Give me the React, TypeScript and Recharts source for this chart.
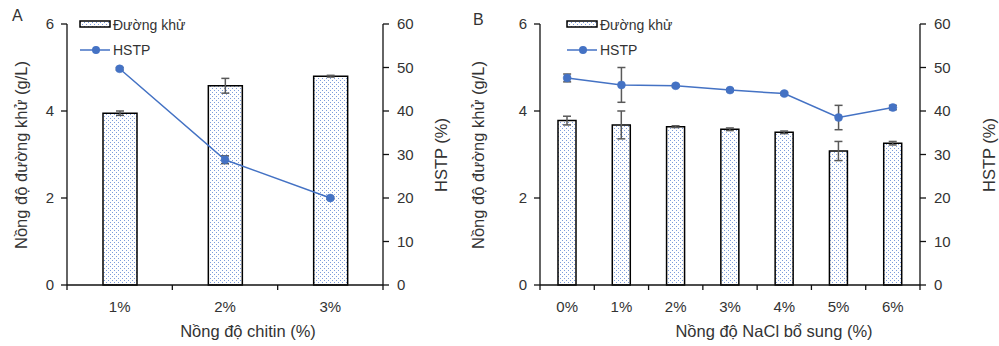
import React from 'react';
import {
  ComposedChart,
  Bar,
  Line,
  XAxis,
  YAxis,
  ErrorBar,
  Legend,
} from 'recharts';

// Panel A: chitin concentration
const chitinCats = ['1%', '2%', '3%'];
const chitinSugar = [3.95, 4.58, 4.8];
const chitinSugarErr = [0.05, 0.17, 0.02];
const chitinHstp = [49.7, 28.8, 20.0];
const chitinHstpErr = [0.3, 0.9, 0.3];

// Panel B: added NaCl concentration
const naclCats = ['0%', '1%', '2%', '3%', '4%', '5%', '6%'];
const naclSugar = [3.78, 3.68, 3.64, 3.58, 3.51, 3.08, 3.26];
const naclSugarErr = [0.1, 0.32, 0.02, 0.03, 0.03, 0.22, 0.04];
const naclHstp = [47.6, 46.0, 45.8, 44.8, 44.0, 38.5, 40.8];
const naclHstpErr = [0.9, 4.0, 0.3, 0.3, 0.3, 2.8, 0.5];

const sugarTicks = [0, 2, 4, 6];
const hstpTicks = [0, 10, 20, 30, 40, 50, 60];

const FONT = '"Liberation Sans", Arial, sans-serif';
const TEXT = '#333';
const BLUE = '#4472C4';
const DOT = '#7d9cdb';
const AXIS = '#111';
const LABEL_GAP = 16;

function buildRows(cats: string[], sugar: number[], sugarErr: number[], hstp: number[], hstpErr: number[]) {
  return cats.map((cat, i) => ({
    cat,
    sugar: sugar[i],
    sugarErr: sugarErr[i],
    hstp: hstp[i],
    hstpErr: hstpErr[i],
  }));
}

const LegendBox = () => (
  <svg width={130} height={46} style={{ overflow: 'visible' }}>
    <rect x={2} y={9} width={30} height={6} fill="url(#dots)" stroke="#000" strokeWidth={1.5} />
    <text x={35} y={13} dominantBaseline="central" fontSize={14} fill={TEXT} fontFamily={FONT}>
      Đường khử
    </text>
    <line x1={2} y1={38} x2={32} y2={38} stroke={BLUE} strokeWidth={1.5} />
    <circle cx={18} cy={38} r={4} fill={BLUE} />
    <text x={35} y={38} dominantBaseline="central" fontSize={14} fill={TEXT} fontFamily={FONT}>
      HSTP
    </text>
  </svg>
);

// category label at the centre, tick marks on the category boundaries (Excel style)
const EdgeTick = (props: any) => {
  const { x, y, payload, index, band, count } = props;
  const axisY = y - LABEL_GAP;
  const left = x - band / 2;
  const right = x + band / 2;
  return (
    <g>
      <line x1={left} y1={axisY} x2={left} y2={axisY + 5} stroke={AXIS} strokeWidth={1.3} />
      {index === count - 1 && (
        <line x1={right} y1={axisY} x2={right} y2={axisY + 5} stroke={AXIS} strokeWidth={1.3} />
      )}
      <text x={x} y={y} dy="0.71em" textAnchor="middle" fontSize={15} fill={TEXT} fontFamily={FONT}>
        {payload.value}
      </text>
    </g>
  );
};

interface PanelProps {
  rows: ReturnType<typeof buildRows>;
  width: number;
  leftW: number;
  rightW: number;
  barSize: number;
  legendLeft: number;
}

const Panel: React.FC<PanelProps> = ({ rows, width, leftW, rightW, barSize, legendLeft }) => {
  const n = rows.length;
  const band = (width - leftW - rightW) / n;
  const tickStyle = { fontSize: 15, fill: TEXT, fontFamily: FONT };
  return (
    <ComposedChart
      width={width}
      height={346}
      data={rows}
      margin={{ top: 24, right: 0, bottom: 31, left: 0 }}
    >
      <XAxis
        dataKey="cat"
        height={30}
        axisLine={{ stroke: AXIS, strokeWidth: 1.3 }}
        tickLine={false}
        tickSize={0}
        tickMargin={LABEL_GAP}
        tick={<EdgeTick band={band} count={n} />}
        interval={0}
      />
      <YAxis
        yAxisId="left"
        orientation="left"
        width={leftW}
        domain={[0, 6]}
        ticks={sugarTicks}
        tickSize={6}
        tickMargin={7}
        tick={tickStyle}
        axisLine={{ stroke: AXIS, strokeWidth: 1.3 }}
        tickLine={{ stroke: AXIS, strokeWidth: 1.3 }}
      />
      <YAxis
        yAxisId="right"
        orientation="right"
        width={rightW}
        domain={[0, 60]}
        ticks={hstpTicks}
        tickSize={6}
        tickMargin={8}
        tick={tickStyle}
        axisLine={{ stroke: AXIS, strokeWidth: 1.3 }}
        tickLine={{ stroke: AXIS, strokeWidth: 1.3 }}
      />
      <Legend
        layout="horizontal"
        verticalAlign="middle"
        align="center"
        content={() => <LegendBox />}
        wrapperStyle={{ left: legendLeft, top: 12, width: 130, height: 46 }}
      />
      <Bar
        yAxisId="left"
        dataKey="sugar"
        barSize={barSize}
        fill="url(#dots)"
        stroke="#000"
        strokeWidth={1.5}
        isAnimationActive={false}
      >
        <ErrorBar dataKey="sugarErr" width={4} stroke="#595959" strokeWidth={1.5} />
      </Bar>
      <Line
        yAxisId="right"
        dataKey="hstp"
        type="linear"
        stroke={BLUE}
        strokeWidth={1.5}
        dot={{ r: 4, fill: BLUE, stroke: BLUE, strokeWidth: 0.5 }}
        activeDot={false}
        isAnimationActive={false}
      >
        <ErrorBar dataKey="hstpErr" direction="y" width={4} stroke="#595959" strokeWidth={1.5} />
      </Line>
    </ComposedChart>
  );
};

const titleProps = { fontSize: 16.5, fill: TEXT, fontFamily: FONT, textAnchor: 'middle' as const };

function VTitle({ x, y, text }: { x: number; y: number; text: string }) {
  return (
    <text {...titleProps} x={x} y={y} dominantBaseline="central" transform={`rotate(-90 ${x} ${y})`}>
      {text}
    </text>
  );
}

export default function App() {
  const rowsA = buildRows(chitinCats, chitinSugar, chitinSugarErr, chitinHstp, chitinHstpErr);
  const rowsB = buildRows(naclCats, naclSugar, naclSugarErr, naclHstp, naclHstpErr);
  return (
    <div
      style={{
        position: 'absolute',
        left: 0,
        top: 0,
        width: 999,
        height: 346,
        background: '#fff',
        fontFamily: FONT,
      }}
    >
      <svg width={0} height={0} style={{ position: 'absolute' }}>
        <defs>
          <pattern id="dots" width={4} height={4} patternUnits="userSpaceOnUse">
            <rect width={4} height={4} fill="#fff" />
            <rect x={0} y={0} width={1} height={1} fill={DOT} />
            <rect x={2} y={2} width={1} height={1} fill={DOT} />
          </pattern>
        </defs>
      </svg>
      <div style={{ position: 'absolute', left: 0, top: 0 }}>
        <Panel rows={rowsA} width={470} leftW={67} rightW={87} barSize={34} legendLeft={78} />
      </div>
      <div style={{ position: 'absolute', left: 470, top: 0 }}>
        <Panel rows={rowsB} width={529} leftW={70} rightW={79} barSize={18} legendLeft={95} />
      </div>
      <svg
        width={999}
        height={346}
        style={{ position: 'absolute', left: 0, top: 0, pointerEvents: 'none' }}
      >
        <text x={12} y={21} fontSize={16} fill={TEXT} fontFamily={FONT}>A</text>
        <text x={473} y={25} fontSize={16} fill={TEXT} fontFamily={FONT}>B</text>
        <VTitle x={21} y={155} text="Nồng độ đường khử (g/L)" />
        <VTitle x={441} y={155} text="HSTP (%)" />
        <VTitle x={478} y={155} text="Nồng độ đường khử (g/L)" />
        <VTitle x={989} y={155} text="HSTP (%)" />
        <text {...titleProps} x={248} y={337}>Nồng độ chitin (%)</text>
        <text {...titleProps} x={774} y={337}>Nồng độ NaCl bổ sung (%)</text>
      </svg>
    </div>
  );
}
